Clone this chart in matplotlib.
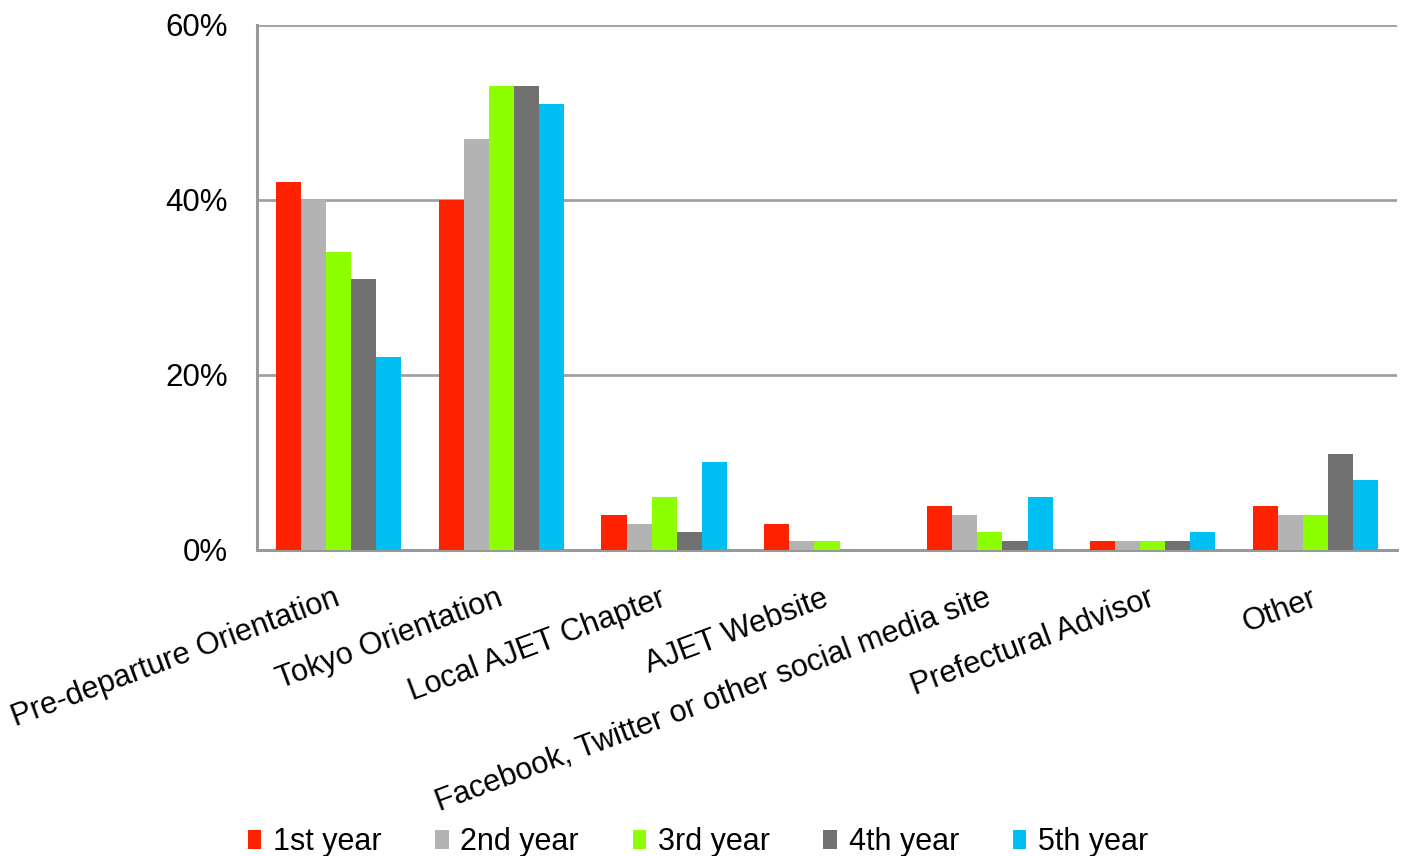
import matplotlib
matplotlib.use("Agg")
import matplotlib.pyplot as plt
from matplotlib.ticker import PercentFormatter
from matplotlib.transforms import ScaledTranslation
import numpy as np

plt.rcParams['font.family'] = ['Liberation Sans', 'DejaVu Sans']

categories = ["Pre-departure Orientation", "Tokyo Orientation", "Local AJET Chapter",
              "AJET Website", "Facebook, Twitter or other social media site",
              "Prefectural Advisor", "Other"]
series_names = ["1st year", "2nd year", "3rd year", "4th year", "5th year"]
year1 = [42, 40, 4, 3, 5, 1, 5]
year2 = [40, 47, 3, 1, 4, 1, 4]
year3 = [34, 53, 6, 1, 2, 1, 4]
year4 = [31, 53, 2, 0, 1, 1, 11]
year5 = [22, 51, 10, 0, 6, 2, 8]
yticks = [0, 20, 40, 60]
colors = ["#FF2200", "#B3B3B3", "#8CFF00", "#717171", "#00BFF3"]

series = [year1, year2, year3, year4, year5]

fig = plt.figure(figsize=(14.07, 8.56), dpi=100)
ax = fig.add_axes([0.1827, 0.3575, 0.8102, 0.6133])

x = np.arange(len(categories))
w = 0.154
for i, (vals, name, c) in enumerate(zip(series, series_names, colors)):
    ax.bar(x + (i - 2) * w, vals, width=w, color=c, label=name, linewidth=0, zorder=3)

ax.set_xlim(-0.5, len(categories) - 0.5)
ax.set_ylim(0, 60)
ax.set_yticks(yticks)
ax.yaxis.set_major_formatter(PercentFormatter(decimals=0))
ax.yaxis.grid(True, color="#A0A0A0", linewidth=2.0, zorder=0)
ax.set_axisbelow(True)
for s in ["top", "right"]:
    ax.spines[s].set_visible(False)
for s in ["left", "bottom"]:
    ax.spines[s].set_color("#999999")
    ax.spines[s].set_linewidth(2.2)
ax.tick_params(axis="both", length=0)
ax.tick_params(axis="y", pad=21, labelsize=22.5)
ax.tick_params(axis="x", pad=24, labelsize=22.1)
ax.set_xticks(x)
ax.set_xticklabels(categories, rotation=20.5, ha="right", va="top", rotation_mode="anchor")
shift = ScaledTranslation(-0.05, 0, fig.dpi_scale_trans)
for lbl in ax.get_xticklabels():
    lbl.set_transform(lbl.get_transform() + shift)

fig.legend(loc="center", bbox_to_anchor=(0.496, 0.016), ncol=5, frameon=False,
           fontsize=22, handlelength=0.45, handleheight=0.55, handletextpad=0.37,
           columnspacing=1.76, borderaxespad=0)

fig.savefig("out.png", dpi=100)
